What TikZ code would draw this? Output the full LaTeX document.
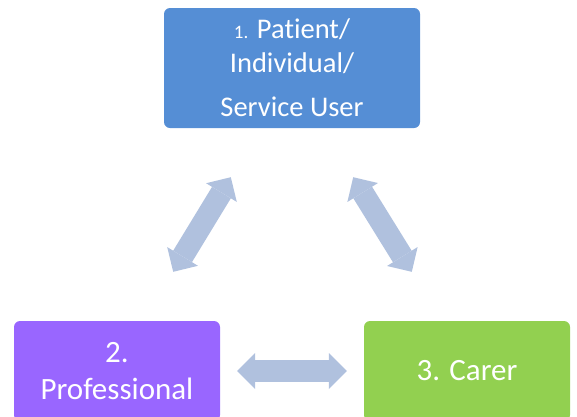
\documentclass[tikz,border=0pt]{standalone}
\usepackage{fontspec}
\setmainfont{Carlito}[Ligatures=NoCommon]
\usetikzlibrary{arrows.meta, positioning, calc}
\definecolor{roleBlue}{RGB}{85, 142, 213}
\definecolor{rolePurple}{RGB}{153, 102, 255}
\definecolor{roleGreen}{RGB}{146, 208, 80}
\definecolor{linkBlue}{RGB}{176, 193, 222}

\tikzset{
  rolebox/.style={rounded corners=6pt, inner sep=0pt, text=white, align=center},
  linkarrow/.style={line width=22pt, linkBlue,
    {Triangle[length=18pt, width=36pt, line width=0pt]}-{Triangle[length=18pt, width=36pt, line width=0pt]}}
}

\begin{document}
\begin{tikzpicture}[x=1pt, y=-1pt]
    \clip (0,0) rectangle (577,416);
    \node[rolebox, fill=roleBlue, minimum width=256pt, minimum height=120pt,
          font=\fontsize{28.5}{34}\selectfont] (patient) at (292,68)
        {{\fontsize{19}{20}\selectfont 1.} Patient/\\Individual/\\[10pt]Service User};
    \node[rolebox, fill=rolePurple, minimum width=206pt, minimum height=100pt,
          font=\fontsize{31}{37}\selectfont] (prof) at (117,371) {2.\\Professional};
    \node[rolebox, fill=roleGreen, minimum width=206pt, minimum height=100pt,
          font=\fontsize{31}{37}\selectfont] (carer) at (467,371) {3. Carer};
    % arrow ends
    \coordinate (pl) at ($(patient.south west)+(67,49)$);
    \coordinate (pr) at ($(patient.south east)+(-67,49)$);
    \coordinate (ql) at ($(prof.north east)+(-47,-49)$);
    \coordinate (qr) at ($(carer.north west)+(48,-49)$);
    \draw[linkarrow] (pl) -- (ql);
    \draw[linkarrow] (pr) -- (qr);
    \draw[linkarrow, shorten <=17pt, shorten >=17pt] (prof.east) -- (carer.west);
\end{tikzpicture}
\end{document}
